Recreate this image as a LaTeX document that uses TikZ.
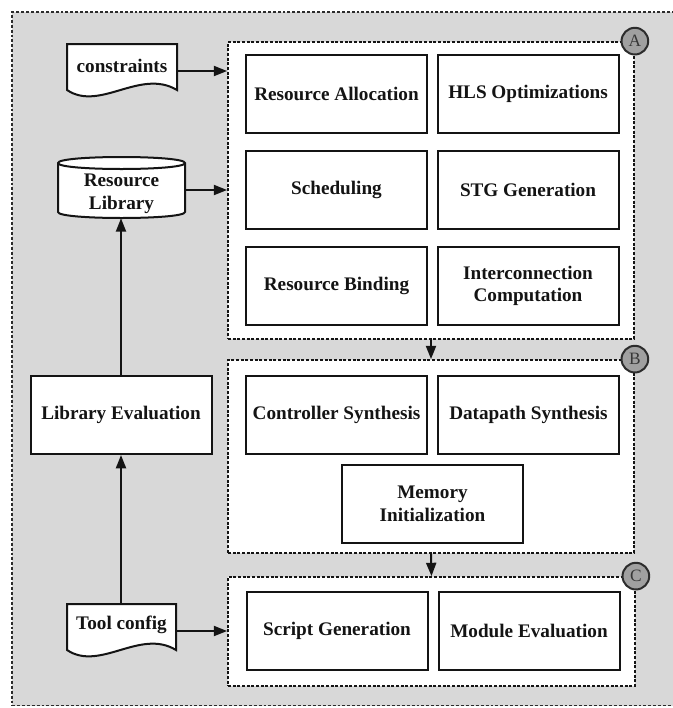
\documentclass[tikz,border=0pt]{standalone}
\usepackage{fontspec}
\setmainfont{Liberation Serif}
\usetikzlibrary{arrows.meta}
\definecolor{bggray}{RGB}{216,216,216}
\definecolor{ink}{RGB}{20,20,20}
\definecolor{tagfill}{RGB}{160,160,160}

\begin{document}
\begin{tikzpicture}[x=0.75pt,y=-0.75pt,
  every node/.style={font=\fontsize{14.4}{17}\selectfont\bfseries, text=ink},
  stage/.style={draw=ink, line width=1.5pt, fill=white, minimum width=135.75pt,
    minimum height=58.5pt, align=center, inner sep=0pt},
  group/.style={draw=ink, line width=1.3pt, dash pattern=on 2.2pt off 1.3pt,
    fill=white, inner sep=0pt},
  frame/.style={draw=ink!90, line width=1.1pt, dash pattern=on 2.2pt off 1.5pt},
  tag/.style={circle, draw=ink!90, line width=1.5pt, fill=tagfill, minimum size=20pt,
    inner sep=0pt, font=\fontsize{13}{13}\selectfont\mdseries, text=ink!85},
  flow/.style={draw=ink, line width=1.5pt, -{Triangle[length=10pt,width=7.5pt]}},
  shapeline/.style={draw=ink, line width=1.5pt, fill=white},
  anchorbox/.style={inner sep=0pt, draw=none, fill=none},
]
\useasboundingbox (0,0) rectangle (673,708);
\clip (0,0) rectangle (673,708);

% outer grey panel
\fill[bggray] (12,12) rectangle (690,705.5);
\draw[frame] (690,12) -- (12,12) -- (12,705.5) -- (690,705.5);

% stage groups
\node[group, minimum width=304.5pt, minimum height=222.75pt] (A) at (431,190.5) {};
\node[group, minimum width=304.5pt, minimum height=144.75pt] (B) at (431,456.5) {};
\node[group, minimum width=305.25pt, minimum height=81.75pt] (C) at (431.5,631.5) {};

% group A
\node[stage] (ralloc) at (336.5,94) {Resource Allocation};
\node[stage] (hlsopt) at (528,94) {HLS Optimizations};
\node[stage] (sched)  at (336.5,190) {Scheduling};
\node[stage] (stg)    at (528,190) {STG Generation};
\node[stage] (rbind)  at (336.5,286) {Resource Binding};
\node[stage] (icomp)  at (528,286) {Interconnection\\Computation};

% group B
\node[stage] (ctrl)  at (336.5,415) {Controller Synthesis};
\node[stage] (dpath) at (528.5,415) {Datapath Synthesis};
\node[stage] (meminit) at (432.5,504) {Memory\\Initialization};

% group C
\node[stage] (script) at (337,631) {Script Generation};
\node[stage] (modeval) at (529,631) {Module Evaluation};

% left column
\node[stage] (libeval) at (121,415) {Library Evaluation};

% constraints document
\draw[shapeline] (67,44) -- (177,44) -- (177,90)
  .. controls (140,68) and (100,112) .. (67,90) -- cycle;
\node[anchorbox, minimum width=82.5pt, minimum height=40.5pt] (cons) at (122,71) {};
\node at (122,65.5) {constraints};

% resource library cylinder
\draw[shapeline] (58,163) -- (58,212) .. controls (58,220) and (185,220) .. (185,212)
  -- (185,163) .. controls (185,155) and (58,155) .. (58,163) -- cycle;
\draw[draw=ink, line width=1.5pt] (58,163) .. controls (58,171) and (185,171) .. (185,163);
\node[anchorbox, minimum width=95.25pt, minimum height=42pt] (lib) at (121.5,190) {};
\node[align=center] at (121.5,194) {Resource\\Library};

% tool config document
\draw[shapeline] (67,604) -- (176,604) -- (176,650)
  .. controls (140,628) and (100,672) .. (67,650) -- cycle;
\node[anchorbox, minimum width=81.75pt, minimum height=40.5pt] (tool) at (121.5,631) {};
\node at (121.5,624.5) {Tool config};

% connectors
\draw[flow] (cons.east) -- (A.west |- cons.east);
\draw[flow] (lib.east) -- (A.west |- lib.east);
\draw[flow] (tool.east) -- (C.west |- tool.east);
\draw[flow] (tool.north -| libeval.south) -- (libeval.south);
\draw[flow] (libeval.north) -- (lib.south -| libeval.north);
\draw[flow] (A.south) -- (B.north);
\draw[flow] (B.south) -- (C.north);

% stage tags
\node[tag] (tagA) at (A.north east) {A};
\node[tag] (tagB) at (B.north east) {B};
\node[tag] (tagC) at (C.north east) {C};
\end{tikzpicture}
\end{document}
